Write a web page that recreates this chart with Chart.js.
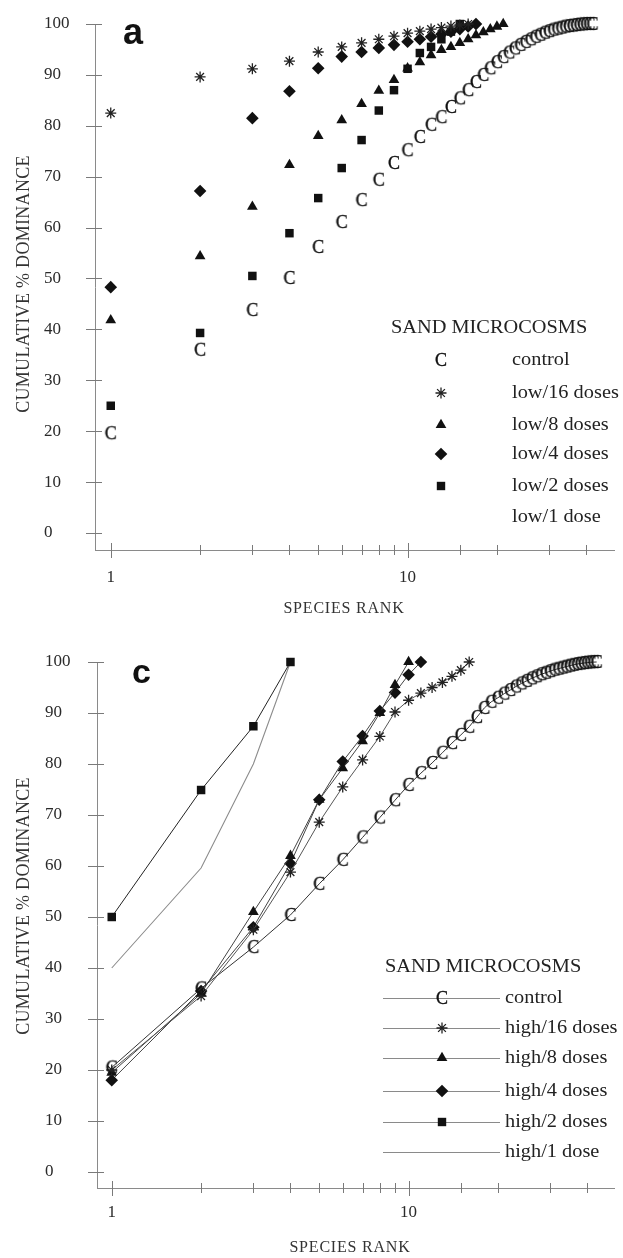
<!DOCTYPE html>
<html>
<head>
<meta charset="utf-8">
<script src="https://cdn.jsdelivr.net/npm/chart.js@4.4.1/dist/chart.umd.min.js"></script>
<style>
  html, body { margin: 0; padding: 0; background: #fff; }
  #page { position: relative; width: 623px; height: 1258px; overflow: hidden; background: #fff;
          font-family: "Liberation Serif", "Times New Roman", serif; color: #222; }
  canvas.cv { position: absolute; left: 0; }
  .txt { position: absolute; white-space: nowrap; line-height: 1; transform-origin: 0 50%; }
  .panel { position: absolute; font-family: "Liberation Sans", Arial, sans-serif; font-weight: bold; line-height: 1; color: #111; }
  .ytitle { position: absolute; white-space: nowrap; line-height: 1; font-size: 18px; color: #333; letter-spacing: 0.3px;
            transform: translate(-50%, -50%) rotate(-90deg); }
  .xtitle { position: absolute; white-space: nowrap; line-height: 1; font-size: 16px; color: #333; letter-spacing: 0.8px;
            transform: translate(-50%, -50%); }
  .lline { position: absolute; height: 0; border-top: 1px solid #8a8a8a; }
  .mk { position: absolute; }
</style>
</head>
<body>
<div id="page">
  <canvas id="cTop" class="cv" width="623" height="630" style="top:0px"></canvas>
  <canvas id="cBot" class="cv" width="623" height="628" style="top:630px"></canvas>
</div>
<script>
// ---------------- DATA ----------------
// x tick labels shown on the log axis
const X_TICK_LABELS = [1, 10];
// y tick step (labels 0..100)
const Y_TICK_STEP = 10;

// Panel a: SAND MICROCOSMS, low doses (cumulative % dominance by species rank 1..n)
const TOP_CONTROL = [19.6, 36.0, 43.8, 50.1, 56.2, 61.1, 65.4, 69.4, 72.7, 75.2, 77.8, 80.2, 81.7, 83.7, 85.4, 87.0, 88.6, 90.0, 91.3, 92.5,
                     93.5, 94.4, 95.2, 95.9, 96.5, 97.0, 97.5, 97.9, 98.3, 98.6, 98.9, 99.1, 99.3, 99.5, 99.6, 99.7, 99.8, 99.9, 99.95, 100, 100, 100];
const TOP_LOW16 = [82.5, 89.6, 91.2, 92.7, 94.5, 95.5, 96.3, 97.0, 97.6, 98.2, 98.6, 99.0, 99.3, 99.6, 99.8, 100];
const TOP_LOW8  = [41.8, 54.4, 64.1, 72.3, 78.0, 81.1, 84.3, 86.9, 89.0, 91.3, 92.5, 93.9, 94.9, 95.5, 96.3, 97.0, 97.8, 98.4, 99.0, 99.5, 100];
const TOP_LOW4  = [48.3, 67.2, 81.5, 86.8, 91.3, 93.6, 94.5, 95.3, 95.9, 96.5, 97.0, 97.5, 98.0, 98.5, 99.0, 99.5, 100];
const TOP_LOW2  = [25.0, 39.3, 50.5, 58.9, 65.8, 71.7, 77.2, 83.0, 87.0, 91.2, 94.3, 95.5, 97.0, 98.5, 100];
const TOP_LABELS = ['control', 'low/16 doses', 'low/8 doses', 'low/4 doses', 'low/2 doses', 'low/1 dose'];

// Panel c: SAND MICROCOSMS, high doses
const BOT_CONTROL = [20.5, 36.0, 44.1, 50.4, 56.5, 61.2, 65.6, 69.5, 72.9, 75.9, 78.2, 80.2, 82.2, 84.1, 85.7, 87.3, 89.2, 91.0, 92.2,
                     93.0, 93.8, 94.5, 95.2, 95.8, 96.3, 96.8, 97.2, 97.6, 97.9, 98.2, 98.5, 98.7, 98.9, 99.1, 99.3, 99.45, 99.6, 99.7, 99.8, 99.88, 99.94, 99.98, 100];
const BOT_HIGH16 = [20.0, 34.5, 47.5, 58.8, 68.6, 75.5, 80.8, 85.4, 90.2, 92.5, 93.9, 95.0, 96.0, 97.2, 98.4, 100];
const BOT_HIGH8  = [19.5, 35.0, 51.0, 62.0, 73.0, 79.2, 84.5, 90.0, 95.5, 100];
const BOT_HIGH4  = [18.0, 35.5, 48.0, 60.5, 73.0, 80.5, 85.5, 90.4, 94.0, 97.5, 100];
const BOT_HIGH2  = [50.0, 74.9, 87.4, 100];
const BOT_HIGH1  = [40.0, 59.6, 80.0, 100];
const BOT_LABELS = ['control', 'high/16 doses', 'high/8 doses', 'high/4 doses', 'high/2 doses', 'high/1 dose'];

const LEGEND_TITLE = 'SAND MICROCOSMS';
const Y_TITLE = 'CUMULATIVE % DOMINANCE';
const X_TITLE = 'SPECIES RANK';

// ---------------- HELPERS ----------------
function pts(arr) { return arr.map((v, i) => ({ x: i + 1, y: v })); }

function glyphCanvas(ch, px) {
  const c = document.createElement('canvas');
  c.width = px + 4; c.height = px + 4;
  const g = c.getContext('2d');
  g.fillStyle = '#111';
  g.strokeStyle = '#111';
  g.lineWidth = 0.35;
  g.font = px + 'px "Liberation Serif", serif';
  g.textAlign = 'center';
  g.textBaseline = 'middle';
  g.fillText(ch, c.width / 2, c.height / 2 + 1);
  g.strokeText(ch, c.width / 2, c.height / 2 + 1);
  return c;
}
const C_IMG = glyphCanvas('C', 18);

const SERIF = '"Liberation Serif", "Times New Roman", serif';

const axisTicks = {
  id: 'axisTicks',
  afterDraw(chart) {
    const ctx = chart.ctx, xs = chart.scales.x, ys = chart.scales.y, a = chart.chartArea;
    ctx.save();
    ctx.strokeStyle = '#7a7a7a';
    ctx.lineWidth = 1;
    ys.ticks.forEach(t => {
      if (t.value < 0 || t.value > 100) return;
      const py = Math.round(ys.getPixelForValue(t.value)) + 0.5;
      ctx.beginPath(); ctx.moveTo(a.left - 9, py); ctx.lineTo(a.left + 7, py); ctx.stroke();
    });
    xs.ticks.forEach(t => {
      const v = t.value;
      if (v < 1 || Math.abs(v - Math.round(v)) > 1e-6) return;
      const px = Math.round(xs.getPixelForValue(v)) + 0.5;
      const big = X_TICK_LABELS.some(l => Math.abs(l - v) < 1e-9);
      ctx.beginPath(); ctx.moveTo(px, a.bottom - (big ? 7 : 5)); ctx.lineTo(px, a.bottom + (big ? 8 : 5)); ctx.stroke();
    });
    ctx.restore();
  }
};

function makeOptions(p) {
  return {
    responsive: false,
    animation: false,
    devicePixelRatio: 1,
    layout: { padding: { left: p.left, top: p.top, right: 0, bottom: 0 } },
    plugins: { legend: { display: false }, tooltip: { enabled: false } },
    scales: {
      x: {
        type: 'logarithmic',
        min: p.xmin, max: p.xmax,
        grid: { display: true, drawOnChartArea: false, drawTicks: true, tickLength: p.xpad, tickColor: 'rgba(0,0,0,0)' },
        border: { display: true, color: '#8a8a8a', width: 1 },
        ticks: {
          autoSkip: false, maxRotation: 0, minRotation: 0, padding: 0,
          color: '#2a2a2a', font: { family: SERIF, size: 17 },
          callback: (v) => {
            const m = X_TICK_LABELS.find(t => Math.abs(t - v) < 1e-9);
            return m !== undefined ? String(m) : '';
          }
        },
        afterFit: (s) => { s.height = p.xh; }
      },
      y: {
        type: 'linear',
        min: p.ymin, max: 100,
        grid: { display: true, drawOnChartArea: false, drawTicks: false },
        border: { display: true, color: '#8a8a8a', width: 1 },
        ticks: {
          stepSize: Y_TICK_STEP, includeBounds: false, crossAlign: 'far', padding: 0,
          color: '#2a2a2a', font: { family: SERIF, size: 17 }
        },
        afterFit: (s) => { s.width = p.yw; }
      }
    }
  };
}

// ---------------- TOP CHART (a) ----------------
new Chart(document.getElementById('cTop'), {
  type: 'scatter',
  data: {
    datasets: [
      { label: TOP_LABELS[0], data: pts(TOP_CONTROL), pointStyle: C_IMG, pointRadius: 8, showLine: false, clip: false },
      { label: TOP_LABELS[1], data: pts(TOP_LOW16), pointStyle: 'star', pointRadius: 5.5, pointBorderWidth: 1.3,
        pointBorderColor: '#222', pointBackgroundColor: '#222', showLine: false, clip: false },
      { label: TOP_LABELS[2], data: pts(TOP_LOW8), pointStyle: 'triangle', pointRadius: 6.2, pointBorderWidth: 0,
        pointBackgroundColor: '#111', showLine: false, clip: false },
      { label: TOP_LABELS[3], data: pts(TOP_LOW4), pointStyle: 'rectRot', pointRadius: 6.3, pointBorderWidth: 0,
        pointBackgroundColor: '#111', showLine: false, clip: false },
      { label: TOP_LABELS[4], data: pts(TOP_LOW2), pointStyle: 'rect', pointRadius: 6, pointBorderWidth: 0,
        pointBackgroundColor: '#111', showLine: false, clip: false }
    ]
  },
  options: makeOptions({ left: 44, top: 24, yw: 51, xh: 80, xmin: 0.885, xmax: 49.6, ymin: -3.34, xpad: 17 }),
  plugins: [axisTicks]
});

// ---------------- BOTTOM CHART (c) ----------------
new Chart(document.getElementById('cBot'), {
  type: 'scatter',
  data: {
    datasets: [
      { label: BOT_LABELS[0], data: pts(BOT_CONTROL), pointStyle: C_IMG, pointRadius: 8, showLine: true,
        borderColor: '#333', borderWidth: 1, clip: false },
      { label: BOT_LABELS[1], data: pts(BOT_HIGH16), pointStyle: 'star', pointRadius: 5.5, pointBorderWidth: 1.3,
        pointBorderColor: '#222', pointBackgroundColor: '#222', showLine: true, borderColor: '#555', borderWidth: 1, clip: false },
      { label: BOT_LABELS[2], data: pts(BOT_HIGH8), pointStyle: 'triangle', pointRadius: 6.2, pointBorderWidth: 0,
        pointBackgroundColor: '#111', showLine: true, borderColor: '#444', borderWidth: 1, clip: false },
      { label: BOT_LABELS[3], data: pts(BOT_HIGH4), pointStyle: 'rectRot', pointRadius: 6.3, pointBorderWidth: 0,
        pointBackgroundColor: '#111', showLine: true, borderColor: '#444', borderWidth: 1, clip: false },
      { label: BOT_LABELS[4], data: pts(BOT_HIGH2), pointStyle: 'rect', pointRadius: 6, pointBorderWidth: 0,
        pointBackgroundColor: '#111', showLine: true, borderColor: '#222', borderWidth: 1, clip: false },
      { label: BOT_LABELS[5], data: pts(BOT_HIGH1), pointRadius: 0, showLine: true,
        borderColor: '#8c8c8c', borderWidth: 1.1, clip: false }
    ]
  },
  options: makeOptions({ left: 45, top: 32, yw: 52, xh: 70, xmin: 0.892, xmax: 49.2, ymin: -3.14, xpad: 14 }),
  plugins: [axisTicks]
});

// ---------------- HTML TEXT / LEGENDS ----------------
const page = document.getElementById('page');
function addText(txt, left, cy, size, sx) {
  const d = document.createElement('div');
  d.className = 'txt';
  d.textContent = txt;
  d.style.fontSize = size + 'px';
  d.style.left = left + 'px';
  d.style.top = (cy - size * 0.55) + 'px';
  if (sx) d.style.transform = 'scaleX(' + sx + ')';
  page.appendChild(d);
  return d;
}
function addMarker(kind, cx, cy) {
  const c = document.createElement('canvas');
  c.width = 22; c.height = 22; c.className = 'mk';
  c.style.left = (cx - 11) + 'px'; c.style.top = (cy - 11) + 'px';
  const g = c.getContext('2d');
  g.fillStyle = '#111'; g.strokeStyle = '#222'; g.lineWidth = 1.3;
  const x = 11, y = 11;
  if (kind === 'C') {
    g.drawImage(C_IMG, x - C_IMG.width / 2, y - C_IMG.height / 2);
  } else if (kind === 'rect') {
    g.fillRect(x - 4.2, y - 4.2, 8.4, 8.4);
  } else if (kind === 'triangle') {
    const r = 6.2;
    g.beginPath(); g.moveTo(x, y - r); g.lineTo(x + 0.866 * r, y + 0.5 * r); g.lineTo(x - 0.866 * r, y + 0.5 * r); g.closePath(); g.fill();
  } else if (kind === 'rectRot') {
    const r = 6.3;
    g.beginPath(); g.moveTo(x, y - r); g.lineTo(x + r, y); g.lineTo(x, y + r); g.lineTo(x - r, y); g.closePath(); g.fill();
  } else if (kind === 'star') {
    const r = 5.5, d = r * Math.SQRT1_2;
    g.beginPath();
    g.moveTo(x - r, y); g.lineTo(x + r, y);
    g.moveTo(x, y - r); g.lineTo(x, y + r);
    g.moveTo(x - d, y - d); g.lineTo(x + d, y + d);
    g.moveTo(x - d, y + d); g.lineTo(x + d, y - d);
    g.stroke();
  }
  page.appendChild(c);
}
const KINDS = ['C', 'star', 'triangle', 'rectRot', 'rect', null];

// panel letters
(function () {
  const a = document.createElement('div'); a.className = 'panel'; a.textContent = 'a';
  a.style.fontSize = '36px'; a.style.left = '123px'; a.style.top = '14px'; page.appendChild(a);
  const c = document.createElement('div'); c.className = 'panel'; c.textContent = 'c';
  c.style.fontSize = '34px'; c.style.left = '132px'; c.style.top = '654px'; page.appendChild(c);
})();

// axis titles
function addYTitle(cx, cy) {
  const d = document.createElement('div'); d.className = 'ytitle'; d.textContent = Y_TITLE;
  d.style.left = cx + 'px'; d.style.top = cy + 'px'; page.appendChild(d);
}
function addXTitle(cx, cy) {
  const d = document.createElement('div'); d.className = 'xtitle'; d.textContent = X_TITLE;
  d.style.left = cx + 'px'; d.style.top = cy + 'px'; page.appendChild(d);
}
addYTitle(23, 284); addXTitle(344, 608);
addYTitle(23, 906); addXTitle(350, 1247);

// top legend (markers only)
addText(LEGEND_TITLE, 391, 328, 18.5, 1.1);
const TOP_ROWS = [360, 393, 425, 454, 486, 517];
TOP_LABELS.forEach((lab, i) => {
  if (KINDS[i]) addMarker(KINDS[i], 441, TOP_ROWS[i]);
  addText(lab, 512, TOP_ROWS[i], 18.5, 1.1);
});

// bottom legend (line + marker)
addText(LEGEND_TITLE, 385, 967, 18.5, 1.1);
const BOT_ROWS = [998, 1028, 1058, 1091, 1122, 1152];
BOT_LABELS.forEach((lab, i) => {
  const l = document.createElement('div'); l.className = 'lline';
  l.style.left = '383px'; l.style.width = '117px'; l.style.top = BOT_ROWS[i] + 'px';
  page.appendChild(l);
  if (KINDS[i]) addMarker(KINDS[i], 442, BOT_ROWS[i]);
  addText(lab, 505, BOT_ROWS[i], 18.5, 1.1);
});
</script>
</body>
</html>
